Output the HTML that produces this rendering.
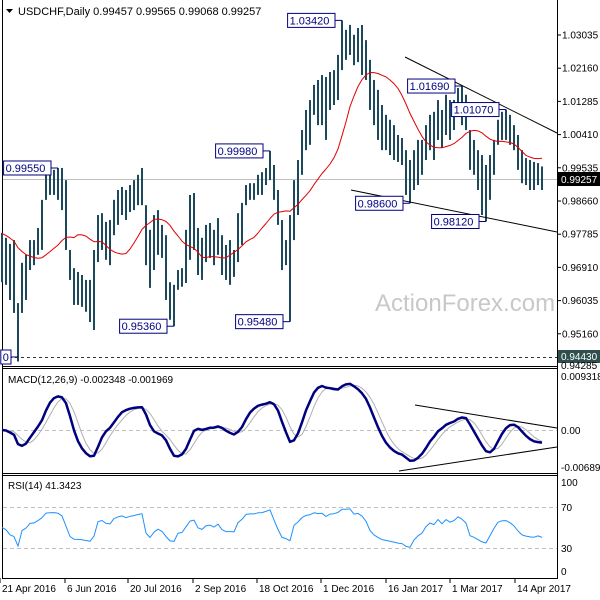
<!DOCTYPE html>
<html><head><meta charset="utf-8"><style>
body{margin:0;background:#fff;}
svg{display:block;font-family:"Liberation Sans",sans-serif;}
</style></head><body>
<svg id="c" width="600" height="600" viewBox="0 0 600 600">
<rect x="0" y="0" width="600" height="600" fill="#fff"/>
<text x="375" y="311" font-size="24" fill="#c8c8c8">ActionForex.com</text>
<g id="frame" stroke="#000" stroke-width="1" fill="none">
<line x1="2.5" y1="0" x2="2.5" y2="578"/>
<line x1="557.5" y1="0" x2="557.5" y2="578"/>
<line x1="2" y1="366.5" x2="558" y2="366.5"/>
<line x1="2" y1="368.5" x2="558" y2="368.5"/>
<line x1="2" y1="473.5" x2="558" y2="473.5"/>
<line x1="2" y1="475.5" x2="558" y2="475.5"/>
<line x1="2" y1="578.5" x2="558" y2="578.5"/>
</g>
<line x1="3" y1="179.5" x2="557" y2="179.5" stroke="#c0c0c0"/>
<line x1="3" y1="357.5" x2="557" y2="357.5" stroke="#333" stroke-dasharray="3,3"/>
<line x1="3" y1="430.5" x2="557" y2="430.5" stroke="#c0c0c0" stroke-dasharray="4,3"/>
<line x1="3" y1="507.5" x2="557" y2="507.5" stroke="#c0c0c0" stroke-dasharray="4,3"/>
<line x1="3" y1="548.5" x2="557" y2="548.5" stroke="#c0c0c0" stroke-dasharray="4,3"/>
<g id="bars"></g>
<g id="ind"></g>
<g stroke="#000" stroke-width="1">
<line x1="405" y1="57" x2="557" y2="133"/>
<line x1="351" y1="190" x2="557" y2="232"/>
<line x1="415" y1="405" x2="557" y2="428"/>
<line x1="399" y1="471" x2="557" y2="447"/>
</g>
<g id="ann" font-size="11" fill="#000080"></g>
<g font-size="10" fill="#000" id="yax"></g>
<rect x="558" y="172" width="42" height="14" fill="#000"/>
<text x="561" y="183" font-size="10" fill="#fff">0.99257</text>
<rect x="558" y="350" width="42" height="13" fill="#2f4f4f"/>
<text x="561" y="360" font-size="10" fill="#fff">0.94430</text>
<text x="561" y="369" font-size="10" fill="#000">0.94285</text>
<g font-size="10" fill="#000">
<text x="561" y="380">0.009318</text>
<text x="561" y="434">0.00</text>
<text x="561" y="471">-0.006894</text>
</g>
<g font-size="10" fill="#000">
<text x="561" y="486">100</text>
<text x="561" y="511">70</text>
<text x="561" y="552">30</text>
<text x="561" y="575">0</text>
</g>
<g id="xax" font-size="10" fill="#000"></g>
<path d="M6 9 L13 9 L9.5 13 Z" fill="#000"/>
<text x="18" y="15" font-size="11" fill="#000">USDCHF,Daily  0.99457 0.99565 0.99068 0.99257</text>
<text x="8" y="383" font-size="10" fill="#000">MACD(12,26,9) -0.002348 -0.001969</text>
<text x="8" y="489" font-size="10" fill="#000">RSI(14) 41.3423</text>
</svg>
<script>
const highs=[0.9782,0.9769,0.9753,0.9763,0.9597,0.9703,0.9724,0.9763,0.9763,0.9795,0.9869,0.9935,0.9942,0.9948,0.9953,0.9953,0.9921,0.9737,0.9689,0.9679,0.9671,0.9658,0.9658,0.9737,0.9829,0.9834,0.9811,0.9816,0.9869,0.9895,0.9903,0.9895,0.9908,0.9921,0.9935,0.9953,0.9855,0.9790,0.9829,0.9842,0.9803,0.9776,0.9652,0.9645,0.9684,0.9689,0.9790,0.9882,0.9887,0.9795,0.9769,0.9803,0.9808,0.9790,0.9821,0.9776,0.9750,0.9763,0.9737,0.9834,0.9861,0.9908,0.9913,0.9913,0.9935,0.9942,0.9953,0.9998,0.9961,0.9895,0.9816,0.9763,0.9829,0.9921,0.9974,1.0053,1.0106,1.0132,1.0172,1.0185,1.0198,1.0193,1.0206,1.0211,1.0251,1.0342,1.0317,1.0330,1.0304,1.0322,1.0330,1.0290,1.0238,1.0185,1.0159,1.0119,1.0093,1.0080,1.0066,1.0040,1.0032,1.0000,0.9974,1.0000,1.0027,1.0027,1.0066,1.0093,1.0101,1.0132,1.0106,1.0146,1.0132,1.0132,1.0164,1.0169,1.0146,1.0053,1.0027,1.0000,0.9987,0.9961,0.9987,1.0027,1.0080,1.0101,1.0107,1.0093,1.0066,1.0040,1.0000,0.9979,0.9974,0.9969,0.9966,0.9957];
const lows=[0.9652,0.9645,0.9605,0.9571,0.9443,0.9571,0.9605,0.9684,0.9697,0.9724,0.9737,0.9869,0.9882,0.9882,0.9869,0.9842,0.9737,0.9658,0.9592,0.9592,0.9587,0.9574,0.9547,0.9526,0.9705,0.9737,0.9711,0.9697,0.9776,0.9803,0.9829,0.9816,0.9837,0.9842,0.9855,0.9855,0.9697,0.9637,0.9684,0.9724,0.9716,0.9605,0.9553,0.9536,0.9632,0.9640,0.9650,0.9711,0.9737,0.9671,0.9658,0.9705,0.9716,0.9697,0.9724,0.9671,0.9658,0.9645,0.9666,0.9705,0.9750,0.9855,0.9869,0.9869,0.9882,0.9882,0.9908,0.9921,0.9869,0.9803,0.9684,0.9697,0.9548,0.9763,0.9829,0.9935,1.0000,1.0014,1.0093,1.0066,1.0066,1.0027,1.0106,1.0119,1.0132,1.0211,1.0238,1.0251,1.0224,1.0232,1.0198,1.0185,1.0106,1.0066,1.0027,1.0000,1.0000,0.9987,0.9974,0.9969,0.9961,0.9882,0.9860,0.9895,0.9908,0.9935,0.9974,1.0000,0.9974,1.0027,1.0006,1.0040,1.0027,1.0053,1.0093,1.0066,1.0053,0.9948,0.9935,0.9895,0.9829,0.9812,0.9869,0.9935,1.0014,1.0027,1.0027,1.0014,1.0000,0.9948,0.9913,0.9908,0.9895,0.9895,0.9908,0.9895];
const dateLabels=["21 Apr 2016","6 Jun 2016","20 Jul 2016","2 Sep 2016","18 Oct 2016","1 Dec 2016","16 Jan 2017","1 Mar 2017","14 Apr 2017"];
const dateIdx=[-0.5,15.75,31.5,47.75,63.75,79.75,96,112,128.25];
const priceTicks=[1.03035,1.02160,1.01285,1.00410,0.99535,0.98660,0.97785,0.96910,0.96035,0.95160];
const annValues=["1.03420","0.99550","0.99980","0.95360","0.95480","1.01690","1.01070","0.98600","0.98120","0"];
const annIdx=[85,14,67,43,72,115,126,102,121,4];
const annAtHigh=[1,1,1,0,0,1,1,0,0,0];

const NS="http://www.w3.org/2000/svg";
const xS=i=>2+4*i;
const yP=p=>35+(1.03035-p)/0.00875*33.2;
const yM=v=>430-v*5551;
const yR=v=>548-(v-30)*1.025;
function mk(tag,attrs,parent){const e=document.createElementNS(NS,tag);for(const k in attrs)e.setAttribute(k,attrs[k]);parent.appendChild(e);return e;}
const bars=document.getElementById('bars');
for(let i=0;i<highs.length;i++){
 const l=mk('line',{x1:xS(i),x2:xS(i),y1:yP(highs[i]),y2:yP(lows[i]),stroke:'#1c4a5c','stroke-width':2},bars);
 
 
}
const closes=highs.map((h,i)=>(h+lows[i])/2);
const ma=closes.map((c,i)=>{const s=Math.max(0,i-14);let t=0;for(let j=s;j<=i;j++)t+=closes[j];let m=t/(i-s+1);const pad=14-(i-s);return (m*(i-s+1)+pad*0.9785)/15;});
const ind=document.getElementById('ind');
function poly(vals,fy,stroke,w,name){
 const p=mk('polyline',{points:vals.map((v,i)=>xS(i)+','+fy(v).toFixed(1)).join(' '),fill:'none',stroke:stroke,'stroke-width':w,'stroke-linejoin':'round'},ind);
 
 
}
poly(ma,yP,'#e00000',1,'moving-average');
function ema(a,n){const k=2/(n+1);let r=[];a.forEach((v,i)=>r.push(i?r[i-1]+k*(v-r[i-1]):v));return r;}
const e1=ema(closes,6),e2=ema(closes,13);
const macd=ema(e1.map((v,i)=>v-e2[i]),2);
const sig=macd.map((v,i)=>{const s=Math.max(0,i-3);let t=0;for(let j=s;j<=i;j++)t+=macd[j];return t/(i-s+1);});
poly(sig,yM,'#b0b0b0',1,'macd-signal-line');
poly(macd,yM,'#000080',2.5,'macd-line');
let ag=0.0009,al=0.0009;const rsi=[50];
for(let i=1;i<closes.length;i++){const d=closes[i]-closes[i-1];const g=Math.max(d,0),l=Math.max(-d,0);
 ag=(ag*6+g)/7;al=(al*6+l)/7;
 rsi.push(al===0?70:100-100/(1+ag/al));}
const rs=rsi.map(v=>50+(v-50)*0.5);
poly(rs,yR,'#1e90ff',1,'rsi-line');
const yax=document.getElementById('yax');
priceTicks.forEach(p=>{
 const t=mk('line',{x1:557,x2:561,y1:yP(p),y2:yP(p),stroke:'#000'},yax);
 
 
 const tx=mk('text',{x:562,y:yP(p)+3.5},yax);tx.textContent=p.toFixed(5);
 
 
});
const xax=document.getElementById('xax');
dateLabels.forEach((d,k)=>{
 const x=xS(dateIdx[k]);
 const t=mk('line',{x1:x,x2:x,y1:578,y2:583,stroke:'#000'},xax);
 
 
 const tx=mk('text',{x:x+2,y:592},xax);tx.textContent=d;
 
 
});
const ann=document.getElementById('ann');
annValues.forEach((v,k)=>{
 const i=annIdx[k];const px=xS(i);
 const py=v==="0"?357:yP(annAtHigh[k]?highs[i]:lows[i]);
 const w=v.length*6.2+4;const bx=px-7-w;
 const ln=mk('polyline',{points:(bx+w)+','+py+' '+px+','+py,fill:'none',stroke:'#000080'},ann);
 
 
 const r=mk('rect',{x:bx,y:py-7,width:w,height:14,fill:'#fff',stroke:'#000080'},ann);
 
 
 const tx=mk('text',{x:bx+2,y:py+4},ann);tx.textContent=v;
 
 
});
</script>
</body></html>
